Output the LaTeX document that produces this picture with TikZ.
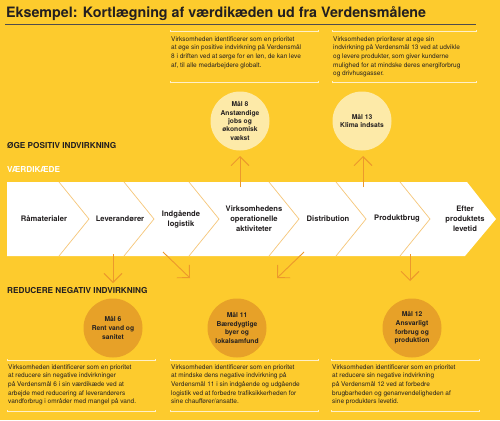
\documentclass[tikz,border=0pt]{standalone}
\usepackage{fontspec}
\setmainfont{TeX Gyre Heros}
\usetikzlibrary{arrows.meta}
\definecolor{bgyel}{RGB}{253,203,45}
\definecolor{lightcirc}{RGB}{253,234,168}
\definecolor{darkcirc}{RGB}{231,161,40}
\definecolor{arrcol}{RGB}{236,152,44}
\definecolor{sepcol}{RGB}{246,198,120}
\definecolor{rulecol}{RGB}{255,240,200}
\definecolor{txt}{RGB}{35,31,32}
\begin{document}
\begin{tikzpicture}[x=1pt,y=-1pt,
  body/.style={anchor=north west, inner sep=0pt, align=left, text=txt,
    font={\fontsize{6.5}{8.6}\selectfont}},
  chainlbl/.style={inner sep=0pt, align=center, text=txt,
    font={\bfseries\fontsize{7.6}{10.2}\selectfont}},
  goallight/.style={circle, fill=lightcirc, minimum size=59pt, inner sep=0pt,
    align=center, text=txt, font={\bfseries\fontsize{6.7}{8.3}\selectfont}},
  goaldark/.style={circle, fill=darkcirc, minimum size=59pt, inner sep=0pt,
    align=center, text=txt, font={\bfseries\fontsize{6.7}{8.6}\selectfont}},
  heading/.style={anchor=west, inner sep=0pt, text=txt,
    font={\bfseries\fontsize{8.2}{10}\selectfont}},
  boxrule/.style={draw=rulecol, line width=0.6pt, {Bar[width=2.5pt]-Bar[width=2.5pt]}},
  sepline/.style={draw=sepcol, line width=0.7pt},
  arr/.style={draw=arrcol, line width=0.9pt, -{Straight Barb[length=9pt,width=18pt]}}
]
\fill[bgyel] (0,0) rectangle (500,420);
\useasboundingbox (0,0) rectangle (500,420);

% title
\node[anchor=west, inner sep=0pt, text=txt, font={\bfseries\fontsize{14.3}{16}\selectfont}] (title) at (6,14) {Eksempel: Kortlægning af værdikæden ud fra Verdensmålene};
\draw[txt!80, line width=0.6pt] (5,24.5) -- (476,24.5);

% top boxes
\draw[boxrule] (170,31) -- (319,31);
\draw[boxrule] (170,82) -- (319,82);
\draw[boxrule] (332,31) -- (477,31);
\draw[boxrule] (332,82) -- (477,82);
\node[body] (t1) at (171,36.4) {Virksomheden identificerer som en prioritet\\at øge sin positive indvirkning på Verdensmål\\8 i driften ved at sørge for en løn, de kan leve\\af, til alle medarbejdere globalt.};
\node[body] (t2) at (333,36.4) {Virksomheden prioriterer at øge sin\\indvirkning på Verdensmål 13 ved at udvikle\\og levere produkter, som giver kunderne\\mulighed for at mindske deres energiforbrug\\og drivhusgasser.};

% top circles
\node[goallight] (g8) at (240,121) {Mål 8\\Anstændige\\jobs og\\økonomisk\\vækst};
\node[goallight] (g13) at (362,121) {Mål 13\\Klima indsats};

% headings
\node[heading] (pos) at (7,146) {ØGE POSITIV INDVIRKNING};
\node[heading, text=white] (vk) at (7,170) {VÆRDIKÆDE};

% value chain
\fill[white] (7,182) -- (467,182) -- (496,219) -- (465,256) -- (7,256) -- cycle;
\foreach \t in {59,124,189,269,336,400}{
  \draw[sepline] (\t,182) -- (\t+30,219) -- (\t,256);
}
\node[chainlbl] (c1) at (44,219) {Råmaterialer};
\node[chainlbl] (c2) at (120,219) {Leverandører};
\node[chainlbl] (c3) at (181,219) {Indgående\\logistik};
\node[chainlbl] (c4) at (254,219) {Virksomhedens\\operationelle\\aktiviteter};
\node[chainlbl] (c5) at (328,219) {Distribution};
\node[chainlbl] (c6) at (397,219) {Produktbrug};
\node[chainlbl] (c7) at (465,219) {Efter\\produktets\\levetid};

% arrows up
\coordinate (u8s) at (240,187);
\coordinate (u8e) at (240,156);
\coordinate (u13s) at (363,187);
\coordinate (u13e) at (363,156);
\draw[arr] (u8s) -- (u8e);
\draw[arr] (u13s) -- (u13e);

% arrows down
\coordinate (d1s) at (113,254);
\coordinate (d1e) at (113,283);
\coordinate (d2s) at (163,252);
\coordinate (d2e) at (190,278);
\coordinate (d3s) at (304,252);
\coordinate (d3e) at (277,278);
\coordinate (d4s) at (410,254);
\coordinate (d4e) at (410,281);
\draw[arr] (d1s) -- (d1e);
\draw[arr] (d2s) -- (d2e);
\draw[arr] (d3s) -- (d3e);
\draw[arr] (d4s) -- (d4e);

\node[heading] (neg) at (7,291) {REDUCERE NEGATIV INDVIRKNING};

% bottom circles
\node[goaldark] (g6) at (113,328) {Mål 6\\Rent vand og\\sanitet};
\node[goaldark] (g11) at (237,328) {Mål 11\\Bæredygtige\\byer og\\lokalsamfund};
\node[goaldark] (g12) at (412,328) {Mål 12\\Ansvarligt\\forbrug og\\produktion};

% bottom boxes
\draw[boxrule] (7,360) -- (156,360);
\draw[boxrule] (7,411) -- (156,411);
\draw[boxrule] (170,360) -- (319,360);
\draw[boxrule] (170,411) -- (319,411);
\draw[boxrule] (331,360) -- (480,360);
\draw[boxrule] (331,411) -- (480,411);
\node[body] (b1) at (8,364.4) {Virksomheden identificerer som en prioritet\\at reducere sin negative indvirkninger\\på Verdensmål 6 i sin værdikæde ved at\\arbejde med reducering af leverandørers\\vandforbrug i områder med mangel på vand.};
\node[body] (b2) at (171,364.4) {Virksomheden identificerer som en prioritet\\at mindske dens negative indvirkning på\\Verdensmål 11 i sin indgående og udgående\\logistik ved at forbedre trafiksikkerheden for\\sine chauffører/ansatte.};
\node[body] (b3) at (332,364.4) {Virksomheden identificerer som en prioritet\\at reducere sin negative indvirkning\\på Verdensmål 12 ved at forbedre\\brugbarheden og genanvendeligheden af\\sine produkters levetid.};
\end{tikzpicture}
\end{document}
